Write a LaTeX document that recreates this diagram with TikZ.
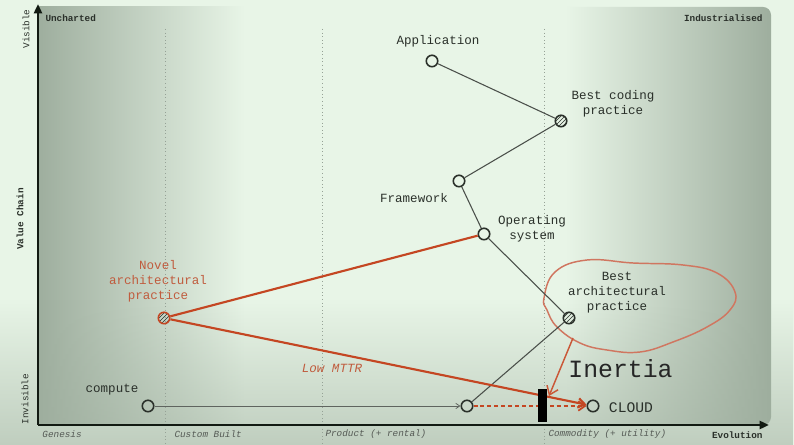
\documentclass[tikz,border=0pt]{standalone}
\usepackage{fontspec}
\setmonofont{Liberation Mono}
\usetikzlibrary{patterns,arrows.meta,fadings}

\definecolor{wmbg}{RGB}{232,245,231}
\definecolor{wmdark}{RGB}{158,174,158}
\definecolor{wmink}{RGB}{42,48,42}
\definecolor{wmaxis}{RGB}{18,26,18}
\definecolor{wmred}{RGB}{196,70,34}
\definecolor{wmsoftred}{RGB}{192,92,62}
\definecolor{wmpink}{RGB}{208,118,96}
\definecolor{wmgrid}{RGB}{150,162,150}

\tikzset{every picture/.style={line width=0.75pt}}
\tikzset{
  comp/.style={circle,draw=wmink,line width=1.2pt,inner sep=0pt,minimum size=8.6pt},
  hatchcomp/.style={comp,pattern=north east lines,pattern color=wmink},
  lbl/.style={inner sep=0.75pt,align=center,text=wmink,font=\ttfamily\fontsize{9.4}{11.3}\selectfont},
  redlbl/.style={lbl,text=wmsoftred},
  tinylbl/.style={inner sep=0.75pt,text=wmink,font=\ttfamily\bfseries\fontsize{7}{8}\selectfont},
  stagelbl/.style={inner sep=0.75pt,text=wmink!80,font=\ttfamily\itshape\fontsize{7}{8}\selectfont},
  link/.style={draw=wmink!85,line width=0.8pt},
  redlink/.style={draw=wmred,line width=1.6pt},
}

\begin{document}
\begin{tikzpicture}[x=0.75pt,y=0.75pt,yscale=-1,xscale=1]
\useasboundingbox (0,0) rectangle (794,445);

%Shape: background
\fill[wmbg] (0,0) rectangle (794,445);
%Shape: panel, uncharted side
\shade[left color=wmdark, right color=wmbg] (38,7) rectangle (245,425);
%Shape: panel, industrialised side
\shade[left color=wmbg, right color=wmdark] (565,7) [rounded corners=6] -- (771,7) -- (771,425) [sharp corners] -- (565,425) -- cycle;
%Shape: darker towards the bottom
\fill[wmdark, fill opacity=0.55, path fading=north] (0,300) rectangle (794,445);

%Straight Lines: stage boundaries
\foreach \gx in {165,322,544}
  \draw[wmgrid, dotted, line width=0.7pt] (\gx,29) -- (\gx,445);

%Shape: Axis 2D
\coordinate (origin) at (38,425);
\coordinate (vtop) at (38,4);
\coordinate (etip) at (769,425);
\draw[wmaxis, line width=2pt, -{Triangle[length=7pt,width=6pt]}] (origin) -- (vtop);
\draw[wmaxis, line width=2pt, -{Triangle[length=7pt,width=6pt]}] (origin) -- (etip);

%Shape: Blob
\draw[wmpink, line width=1.1pt] plot[smooth cycle, tension=0.7] coordinates {
  (544,298) (555,272) (587,260) (633,263) (683,265) (717,273) (735,292)
  (730,310) (707,327) (673,342) (640,352) (607,350) (580,343) (557,327) (547,310)};

%Shape: components
\node[comp] (app) at (432,61) {};
\node[hatchcomp] (bcp) at (561,121) {};
\node[comp] (fw) at (459,181) {};
\node[comp] (os) at (484,234) {};
\node[hatchcomp] (bap) at (569,318) {};
\node[hatchcomp, draw=wmred] (nap) at (164,318) {};
\node[comp] (comp) at (148,406) {};
\node[comp] (mid) at (467,406) {};
\node[comp] (cloud) at (593,406) {};

%Straight Lines: value chain
\draw[link] (app) -- (bcp);
\draw[link] (bcp) -- (fw);
\draw[link] (fw) -- (os);
\draw[link] (os) -- (bap);
\draw[link] (bap) -- (mid);
\draw[draw=wmink!75, line width=0.6pt, -{Straight Barb[length=3pt,width=4pt]}] (comp) -- (mid);

%Straight Lines: red movement
\draw[redlink] (nap) -- (os);
\draw[redlink, -{Straight Barb[length=5pt,width=7pt]}] (nap) -- (cloud);
\draw[wmred, line width=1.3pt, dash pattern=on 3pt off 2.2pt, -{Straight Barb[length=5pt,width=7pt]}] (mid) -- (cloud);

%Shape: Rectangle (barrier)
\fill[black] (538,389) rectangle (547,422);

%Straight Lines: inertia
\coordinate (blobfoot) at (573,338);
\coordinate (inertiatip) at (549,396);
\draw[wmred!90, line width=1.1pt, -{Straight Barb[length=6pt,width=9pt]}] (blobfoot) -- (inertiatip);

% Text Node
\node[lbl] (applbl) at (438,41) {Application};
% Text Node
\node[lbl] (bcplbl) at (613,104) {Best coding\\practice};
% Text Node
\node[lbl] (fwlbl) at (414,198.5) {Framework};
% Text Node
\node[lbl] (oslbl) at (532,229) {Operating\\system};
% Text Node
\node[lbl] (baplbl) at (617,293) {Best\\architectural\\practice};
% Text Node
\node[redlbl] (naplbl) at (158,281) {Novel\\architectural\\practice};
% Text Node
\node[lbl] (complbl) at (112,390) {compute};
% Text Node
\node[lbl, font=\ttfamily\fontsize{11}{13}\selectfont] (cloudlbl) at (631,407.5) {CLOUD};
% Text Node
\node[redlbl, font=\ttfamily\itshape\fontsize{9.4}{11.3}\selectfont] (mttrlbl) at (332,368) {Low MTTR};
% Text Node
\node[lbl, text=black!85, font=\ttfamily\fontsize{18.6}{22}\selectfont] (inertialbl) at (620.5,369) {Inertia};

% Text Node
\node[tinylbl, anchor=west] (uncharted) at (44,18.5) {Uncharted};
% Text Node
\node[tinylbl, anchor=east] (industrial) at (764,18.5) {Industrialised};
% Text Node
\node[tinylbl, font=\ttfamily\fontsize{7}{8}\selectfont, rotate=90] (visible) at (26,29) {Visible};
% Text Node
\node[tinylbl, rotate=90] (valuechain) at (20,219) {Value Chain};
% Text Node
\node[tinylbl, font=\ttfamily\fontsize{7}{8}\selectfont, rotate=90] (invisible) at (25,399) {Invisible};

% Text Node
\node[stagelbl, anchor=west] (genesis) at (41,434.5) {Genesis};
% Text Node
\node[stagelbl, anchor=west] (custom) at (173,434.5) {Custom Built};
% Text Node
\node[stagelbl, anchor=west] (product) at (324,434.5) {Product (+ rental)};
% Text Node
\node[stagelbl, anchor=west] (commodity) at (547,434.5) {Commodity (+ utility)};
% Text Node
\node[tinylbl, anchor=east] (evolution) at (764,435.5) {Evolution};

\end{tikzpicture}
\end{document}
